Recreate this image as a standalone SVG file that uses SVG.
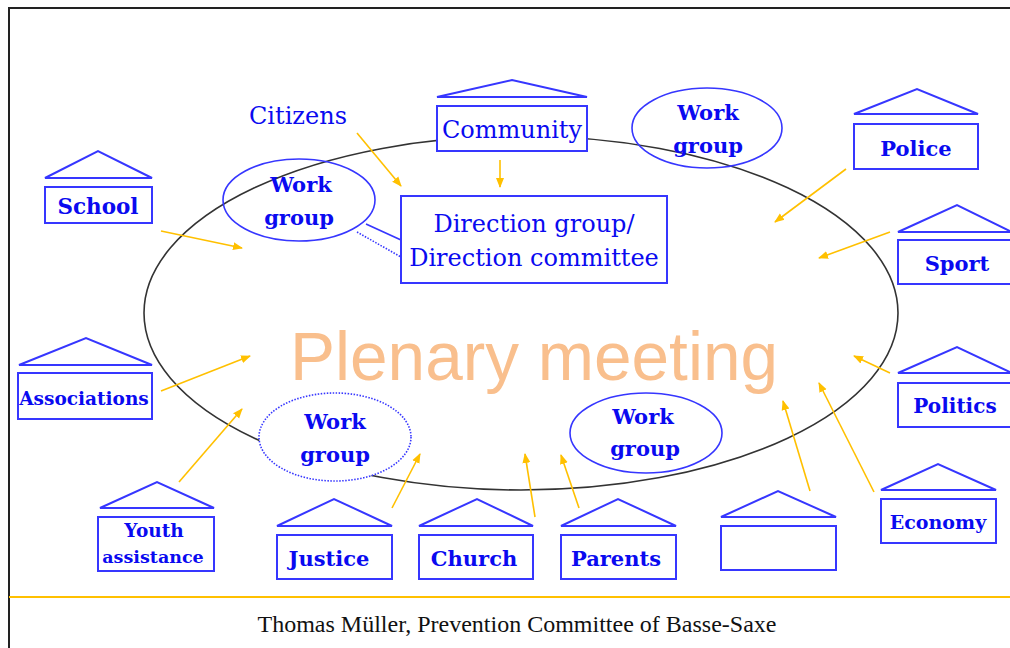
<svg xmlns="http://www.w3.org/2000/svg" width="1010" height="648" viewBox="0 0 1010 648">
  <style>
    .frame { stroke: #222; stroke-width: 2; fill: none; }
    .rule { stroke: #FFC000; stroke-width: 2; fill: none; }
    .plenum { stroke: #333; stroke-width: 1.6; fill: none; }
    .box { stroke: #3636FF; stroke-width: 2; fill: #fff; }
    .roof { stroke: #3636FF; stroke-width: 2; fill: #fff; stroke-linejoin: miter; }
    .wg { stroke: #3636FF; stroke-width: 1.6; fill: none; }
    .wgf { stroke: #3636FF; stroke-width: 1.6; fill: #fff; }
    .dotted { stroke-dasharray: 1.5 1.5; }
    .lbl { font-family: "DejaVu Serif", "Liberation Serif", serif; font-weight: bold; fill: #0A0AF0; text-anchor: middle; }
    .reg { font-family: "DejaVu Serif", "Liberation Serif", serif; fill: #0A0AF0; text-anchor: middle; font-size: 24px; }
    .arrow { stroke: #FFC000; stroke-width: 1.6; fill: none; marker-end: url(#ah); }
    .link { stroke: #3636FF; stroke-width: 1.6; fill: none; }
  </style>
  <defs>
    <marker id="ah" viewBox="0 0 10 10" refX="9" refY="5" markerWidth="10" markerHeight="10" markerUnits="userSpaceOnUse" orient="auto">
      <path d="M0,1 L10,5 L0,9 Z" fill="#FFC000"/>
    </marker>
  </defs>

  <rect width="1010" height="648" fill="#fff"/>

  <!-- page frame and footer rule -->
  <path class="frame" d="M9,648 V8 H1010"/>
  <line class="rule" x1="9" y1="597" x2="1010" y2="597"/>

  <!-- plenary meeting -->
  <g id="plenary">
    <ellipse class="plenum" cx="521" cy="313" rx="377" ry="177"/>
    <text x="534" y="380" font-family="'Liberation Sans', Arial, sans-serif" font-size="68" fill="#F9BF8D" text-anchor="middle" textLength="488" lengthAdjust="spacingAndGlyphs">Plenary meeting</text>
  </g>

  <!-- connectors -->
  <g id="connectors">
    <line class="arrow" x1="357" y1="133" x2="401" y2="186"/>
    <line class="arrow" x1="500" y1="160" x2="500" y2="187"/>
    <line class="arrow" x1="161" y1="231" x2="242" y2="248"/>
    <line class="arrow" x1="846" y1="169" x2="775" y2="222"/>
    <line class="arrow" x1="890" y1="232" x2="819" y2="258"/>
    <line class="arrow" x1="890" y1="373" x2="854" y2="356"/>
    <line class="arrow" x1="874" y1="492" x2="819" y2="383"/>
    <line class="arrow" x1="810" y1="491" x2="783" y2="401"/>
    <line class="arrow" x1="579" y1="508" x2="561" y2="455"/>
    <line class="arrow" x1="535" y1="517" x2="525" y2="454"/>
    <line class="arrow" x1="392" y1="508" x2="420" y2="454"/>
    <line class="arrow" x1="179" y1="482" x2="242" y2="409"/>
    <line class="arrow" x1="161" y1="391" x2="250" y2="356"/>
    <line class="link" x1="366" y1="224" x2="401" y2="240"/>
    <line class="link dotted" x1="357" y1="232" x2="401" y2="257"/>
  </g>

  <!-- working groups -->
  <g id="wg-top-left">
    <ellipse class="wg" cx="299" cy="200" rx="76" ry="41"/>
    <text class="lbl" x="301" y="192" font-size="21">Work</text>
    <text class="lbl" x="299" y="225" font-size="21">group</text>
  </g>
  <g id="wg-top-right">
    <ellipse class="wg" cx="707" cy="128" rx="75" ry="40"/>
    <text class="lbl" x="708" y="120" font-size="21">Work</text>
    <text class="lbl" x="708" y="153" font-size="21">group</text>
  </g>
  <g id="wg-bottom-left">
    <ellipse class="wgf dotted" cx="335" cy="437" rx="76" ry="44"/>
    <text class="lbl" x="335" y="429" font-size="21">Work</text>
    <text class="lbl" x="335" y="462" font-size="21">group</text>
  </g>
  <g id="wg-bottom-right">
    <ellipse class="wgf" cx="646" cy="433" rx="76" ry="40"/>
    <text class="lbl" x="643" y="424" font-size="21">Work</text>
    <text class="lbl" x="645" y="456" font-size="21">group</text>
  </g>

  <!-- direction group -->
  <g id="direction">
    <rect class="box" x="401" y="196" width="266" height="87"/>
    <text class="reg" x="534" y="232">Direction group/</text>
    <text class="reg" x="534" y="266">Direction committee</text>
  </g>

  <g id="citizens">
    <text class="reg" x="298" y="124">Citizens</text>
  </g>

  <!-- partner institutions -->
  <g id="community">
    <polygon class="roof" points="437,97 512,80 587,97"/>
    <rect class="box" x="437" y="106" width="150" height="45"/>
    <text class="reg" x="512" y="138">Community</text>
  </g>
  <g id="school">
    <polygon class="roof" points="45,178 98,151 152,178"/>
    <rect class="box" x="45" y="187" width="107" height="36"/>
    <text class="lbl" x="98" y="214" font-size="21.5">School</text>
  </g>
  <g id="police">
    <polygon class="roof" points="854,114 917,89 978,114"/>
    <rect class="box" x="854" y="124" width="124" height="45"/>
    <text class="lbl" x="916" y="156" font-size="21">Police</text>
  </g>
  <g id="sport">
    <polygon class="roof" points="898,232 957,205 1012,232"/>
    <rect class="box" x="898" y="240" width="114" height="44"/>
    <text class="lbl" x="957" y="271" font-size="21">Sport</text>
  </g>
  <g id="politics">
    <polygon class="roof" points="898,373 957,347 1012,373"/>
    <rect class="box" x="898" y="383" width="114" height="44"/>
    <text class="lbl" x="955" y="413" font-size="20">Politics</text>
  </g>
  <g id="economy">
    <polygon class="roof" points="881,490 938,464 996,490"/>
    <rect class="box" x="881" y="499" width="115" height="44"/>
    <text class="lbl" x="938" y="529" font-size="19">Economy</text>
  </g>
  <g id="unnamed">
    <polygon class="roof" points="721,517 778,491 836,517"/>
    <rect class="box" x="721" y="526" width="115" height="44"/>
  </g>
  <g id="parents">
    <polygon class="roof" points="561,526 618,499 676,526"/>
    <rect class="box" x="561" y="535" width="115" height="44"/>
    <text class="lbl" x="616" y="566" font-size="21">Parents</text>
  </g>
  <g id="church">
    <polygon class="roof" points="419,526 477,499 533,526"/>
    <rect class="box" x="419" y="535" width="114" height="44"/>
    <text class="lbl" x="474" y="566" font-size="21">Church</text>
  </g>
  <g id="justice">
    <polygon class="roof" points="277,526 334,499 392,526"/>
    <rect class="box" x="277" y="535" width="115" height="44"/>
    <text class="lbl" x="329" y="566" font-size="21">Justice</text>
  </g>
  <g id="youth">
    <polygon class="roof" points="100,508 157,482 214,508"/>
    <rect class="box" x="98" y="517" width="116" height="54"/>
    <text class="lbl" x="154" y="537" font-size="18.5">Youth</text>
    <text class="lbl" x="153" y="563" font-size="17.5">assistance</text>
  </g>
  <g id="associations">
    <polygon class="roof" points="19,365 86,338 152,365"/>
    <rect class="box" x="18" y="373" width="134" height="46"/>
    <text class="lbl" x="84" y="405" font-size="18.5">Associations</text>
  </g>

  <!-- credit line -->
  <text x="517" y="632" font-family="'Liberation Serif', 'Times New Roman', serif" font-size="24" fill="#111" text-anchor="middle">Thomas Müller, Prevention Committee of Basse-Saxe</text>
</svg>
